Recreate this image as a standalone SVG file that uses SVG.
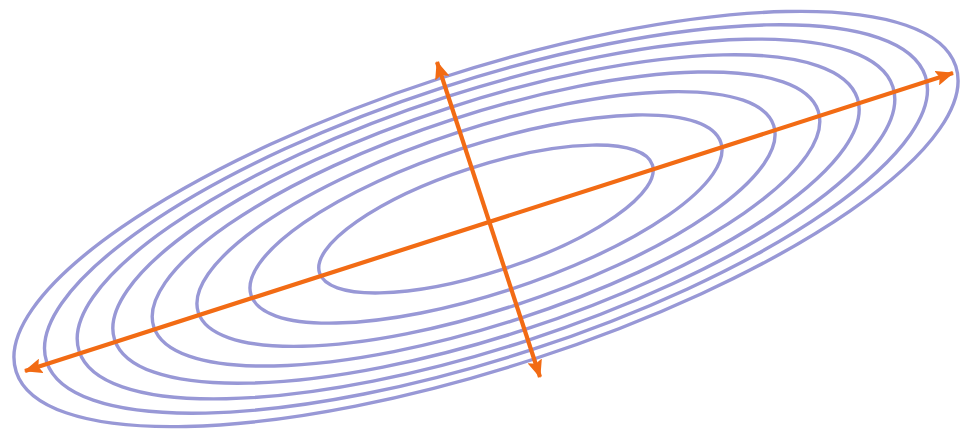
<svg xmlns="http://www.w3.org/2000/svg" width="960" height="440" viewBox="0 0 960 440">
  <defs>
    <style>
      .contour { fill: none; stroke: #9898d6; stroke-width: 3.4; }
      .axis { fill: none; stroke: #f26b14; stroke-width: 4.2; }
    </style>
    <marker id="head" viewBox="0 0 18 15" refX="17" refY="7.5" markerWidth="18" markerHeight="15" markerUnits="userSpaceOnUse" orient="auto-start-reverse">
      <path d="M0,0 L18,7.5 L0,15 L3,7.5 Z" fill="#f26b14"/>
    </marker>
  </defs>
  <rect width="960" height="440" fill="#ffffff"/>
  <g id="contours" transform="translate(486 219) rotate(-18)">
    <ellipse id="c1" class="contour" rx="175" ry="53"/>
    <ellipse id="c2" class="contour" rx="247" ry="74.5"/>
    <ellipse id="c3" class="contour" rx="302.5" ry="91"/>
    <ellipse id="c4" class="contour" rx="349.3" ry="105"/>
    <ellipse id="c5" class="contour" rx="390.5" ry="117.2"/>
    <ellipse id="c6" class="contour" rx="427.8" ry="128.3"/>
    <ellipse id="c7" class="contour" rx="462" ry="138.5"/>
    <ellipse id="c8" class="contour" rx="494" ry="148"/>
  </g>
  <g id="connectors">
    <line id="major-axis" class="axis" x1="25" y1="371" x2="953" y2="73" marker-start="url(#head)" marker-end="url(#head)"/>
    <line id="minor-axis" class="axis" x1="437" y1="62" x2="540" y2="377" marker-start="url(#head)" marker-end="url(#head)"/>
  </g>
</svg>
